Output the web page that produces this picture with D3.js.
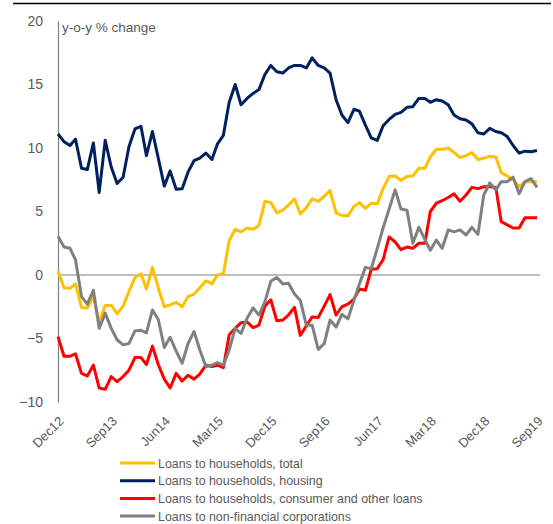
<!DOCTYPE html>
<html>
<head>
<meta charset="utf-8">
<script src="https://cdn.jsdelivr.net/npm/d3@7"></script>
<style>
  body { margin: 0; background: #fff; }
  text { font-family: "Liberation Sans", Arial, sans-serif; }
</style>
</head>
<body>
<div id="chart"></div>
<script>
// monthly, Dec 2012 .. Sep 2019
const months = d3.timeMonth.range(new Date(2012, 11, 1), new Date(2019, 9, 1))

const total = [0.3, -1.0, -1.05, -0.7, -2.55, -2.6, -1.7, -3.7, -2.4, -2.4, -3.05, -2.45,
  -1.3, -0.2, 0.1, -1.1, 0.6, -1.0, -2.5, -2.35, -2.15, -2.5, -1.7, -1.5,
  -1.0, -0.45, -0.7, 0.0, 0.1, 2.7, 3.6, 3.4, 3.7, 3.6, 3.9, 5.8,
  5.7, 4.9, 5.1, 5.5, 6.0, 4.8, 5.3, 6.0, 5.8, 6.2, 6.65, 4.9,
  4.7, 4.65, 5.4, 5.7, 5.25, 5.65, 5.6, 6.8, 7.75, 7.8, 7.45, 7.75,
  7.8, 8.4, 8.4, 9.3, 9.9, 9.9, 10.0, 9.65, 9.25, 9.4, 9.65, 9.1,
  9.2, 9.35, 9.3, 8.05, 7.8, 7.5, 6.95, 7.35, 7.35, 7.35]

const housing = [11.1, 10.5, 10.2, 10.7, 8.4, 8.3, 10.4, 6.5, 10.6, 8.5, 7.2, 7.7,
  10.1, 11.5, 11.7, 9.4, 11.3, 9.2, 7.0, 8.2, 6.75, 6.8, 8.1, 9.0,
  9.2, 9.6, 9.1, 10.3, 11.0, 13.6, 15.0, 13.4, 13.9, 14.3, 14.6, 15.8,
  16.5, 16.0, 15.9, 16.3, 16.5, 16.5, 16.3, 17.1, 16.5, 16.3, 15.9, 13.8,
  12.6, 12.0, 13.05, 12.9, 11.8, 10.8, 10.6, 11.75, 12.25, 12.65, 12.8, 13.2,
  13.25, 13.9, 13.9, 13.6, 13.8, 13.7, 13.4, 12.6, 12.3, 12.2, 11.9, 11.2,
  11.1, 11.55, 11.3, 11.2, 10.9, 10.2, 9.6, 9.75, 9.7, 9.8]

const consumer = [-4.85, -6.4, -6.4, -6.2, -7.75, -7.95, -7.1, -8.9, -9.0, -8.0, -8.4, -8.0,
  -7.5, -6.5, -6.5, -7.05, -5.6, -7.05, -8.2, -8.9, -7.75, -8.35, -7.9, -8.2,
  -7.8, -7.1, -7.2, -7.1, -7.3, -4.7, -4.2, -3.75, -3.7, -4.15, -3.95, -2.45,
  -1.95, -3.6, -3.55, -3.15, -2.55, -4.75, -4.0, -3.3, -3.35, -2.45, -1.55, -3.15,
  -2.5, -2.3, -1.9, -1.1, -1.2, 0.45, 0.5, 1.2, 3.0, 2.6, 2.0, 2.2,
  2.1, 2.5, 2.5, 5.0, 5.65, 5.85, 6.1, 6.4, 5.8, 6.3, 6.9, 6.8,
  6.95, 6.95, 6.9, 4.2, 3.95, 3.7, 3.7, 4.5, 4.5, 4.5]

const corporations = [3.05, 2.2, 2.1, 1.2, -1.7, -2.3, -1.2, -4.2, -3.0, -4.2, -5.1, -5.5,
  -5.4, -4.4, -4.35, -4.55, -2.75, -3.5, -5.7, -4.9, -6.0, -6.95, -5.4, -4.45,
  -5.9, -7.2, -7.1, -6.9, -7.1, -5.9, -4.2, -4.6, -3.4, -2.6, -3.15, -2.1,
  -0.5, -0.2, -0.7, -0.65, -1.5, -2.0, -3.95, -3.95, -5.85, -5.4, -3.55, -4.1,
  -3.1, -3.45, -2.0, -0.7, 0.6, 0.5, 2.1, 3.7, 5.2, 6.7, 5.2, 5.1,
  2.5, 3.75, 2.8, 1.95, 2.75, 2.1, 3.55, 3.4, 3.55, 3.15, 3.75, 3.2,
  6.3, 7.25, 6.7, 7.35, 7.35, 7.7, 6.4, 7.35, 7.6, 6.9]

const seriesNames = ["Loans to households, total", "Loans to households, housing",
  "Loans to households, consumer and other loans", "Loans to non-financial corporations"]
const seriesColors = ["#FFC000", "#002060", "#FF0000", "#808080"]
const yTicks = [-10, -5, 0, 5, 10, 15, 20]

const W = 553, H = 524

const svg = d3.select("#chart").append("svg")
  .attr("width", W).attr("height", H)

// thin rule along the top
svg.append("line")
  .attr("x1", 13).attr("x2", 551).attr("y1", 3.5).attr("y2", 3.5)
  .attr("stroke", "#000").attr("stroke-width", 1.5)

const x = d3.scaleTime().domain(d3.extent(months)).range([58, 537])
const y = d3.scaleLinear().domain([-10, 20]).range([402, 21])

// y axis
const yAxis = svg.append("g")
  .attr("transform", "translate(58,0)")
  .call(d3.axisLeft(y).tickValues(yTicks).tickSize(0).tickPadding(15))
yAxis.select(".domain").attr("stroke", "#808080").attr("stroke-width", 1.2)
yAxis.selectAll("text").style("font-size", "14px").attr("fill", "#595959")
  .style("font-family", "Liberation Sans, Arial, sans-serif")

svg.append("text")
  .attr("x", 62).attr("y", 32)
  .attr("fill", "#595959").style("font-size", "13.5px")
  .text("y-o-y % change")

// zero line
svg.append("line")
  .attr("x1", 58).attr("x2", 540)
  .attr("y1", y(0)).attr("y2", y(0))
  .attr("stroke", "#808080").attr("stroke-width", 1.2)

// x axis labels every 9 months
const xAxis = svg.append("g")
  .attr("transform", `translate(0,${y(-10)})`)
  .call(d3.axisBottom(x)
    .tickValues(months.filter((d, i) => i % 9 === 0))
    .tickFormat(d3.timeFormat("%b%y"))
    .tickSize(0))
xAxis.select(".domain").remove()
xAxis.selectAll("text")
  .attr("x", 0).attr("y", 0).attr("dy", 0)
  .attr("text-anchor", "end")
  .attr("transform", "translate(6,20) rotate(-45)")
  .style("font-size", "13px")
  .style("font-family", "Liberation Sans, Arial, sans-serif")
  .attr("fill", "#595959")

const line = d3.line()
  .x((d, i) => x(months[i]))
  .y(d => y(d))

const allSeries = [total, housing, consumer, corporations]
// draw order: housing, total, consumer, corporations on top
const drawOrder = [1, 0, 2, 3]
drawOrder.forEach(k => {
  svg.append("path")
    .datum(allSeries[k])
    .attr("fill", "none")
    .attr("stroke", seriesColors[k])
    .attr("stroke-width", 3)
    .attr("stroke-linejoin", "round")
    .attr("d", line)
})

// legend
const legend = svg.append("g")
  .attr("transform", "translate(120,463)")
seriesNames.forEach((name, i) => {
  const g = legend.append("g").attr("transform", `translate(0,${i * 17.7})`)
  g.append("line")
    .attr("x1", 0).attr("x2", 35)
    .attr("stroke", seriesColors[i]).attr("stroke-width", 3)
  g.append("text")
    .attr("x", 38).attr("y", 4.5)
    .attr("fill", "#595959").style("font-size", "12.4px")
    .text(name)
})
</script>
</body>
</html>
